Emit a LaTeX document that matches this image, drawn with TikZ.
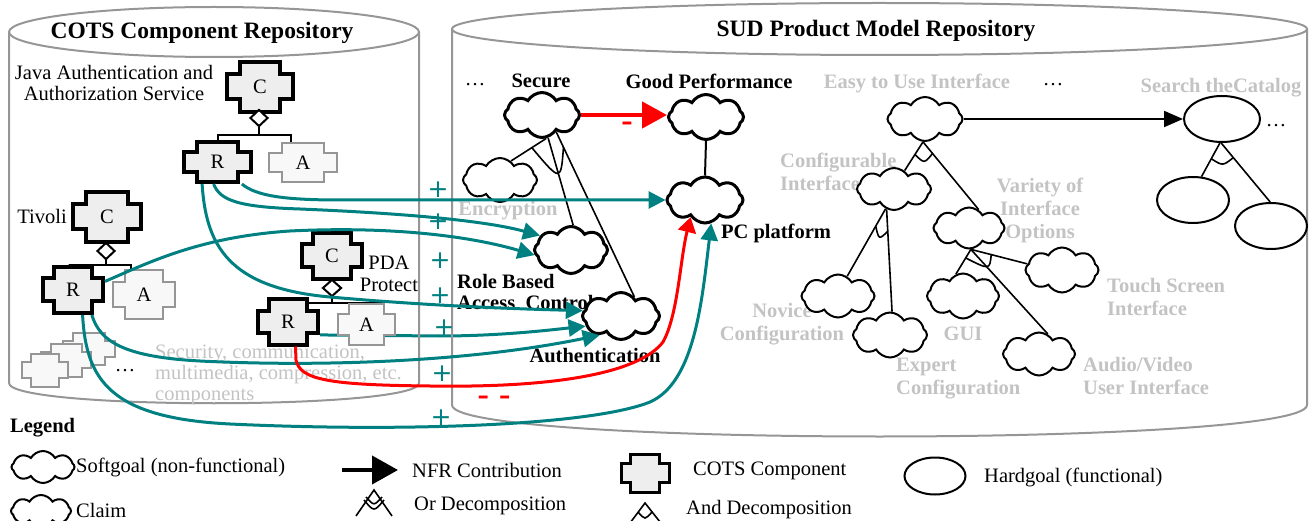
\documentclass[tikz,border=0pt]{standalone}
\usepackage{fontspec}
\setmainfont{Liberation Serif}
\newfontfamily\signfont{DejaVu Sans}
\usetikzlibrary{shapes.symbols,shapes.geometric,arrows.meta,calc}
\pgfdeclarelayer{back}
\pgfsetlayers{back,main}

% COTS component symbol: a rectangle with notched corners
\makeatletter
\pgfdeclareshape{cots}{%
  \inheritsavedanchors[from=rectangle]%
  \inheritanchorborder[from=rectangle]%
  \inheritanchor[from=rectangle]{center}%
  \inheritanchor[from=rectangle]{north}%
  \inheritanchor[from=rectangle]{south}%
  \inheritanchor[from=rectangle]{east}%
  \inheritanchor[from=rectangle]{west}%
  \inheritanchor[from=rectangle]{north east}%
  \inheritanchor[from=rectangle]{north west}%
  \inheritanchor[from=rectangle]{south east}%
  \inheritanchor[from=rectangle]{south west}%
  \inheritanchor[from=rectangle]{mid}%
  \inheritanchor[from=rectangle]{base}%
  \backgroundpath{%
    \southwest \pgf@xa=\pgf@x \pgf@ya=\pgf@y
    \northeast \pgf@xb=\pgf@x \pgf@yb=\pgf@y
    \pgfmathsetlength\pgf@xc{\pgfkeysvalueof{/pgf/outer xsep}}%
    \pgfmathsetlength\pgf@yc{\pgfkeysvalueof{/pgf/outer ysep}}%
    \advance\pgf@xa by\pgf@xc \advance\pgf@ya by\pgf@yc
    \advance\pgf@xb by-\pgf@xc \advance\pgf@yb by-\pgf@yc
    \pgf@xc=\pgf@xb \advance\pgf@xc by-\pgf@xa
    \pgf@yc=\pgf@yb \advance\pgf@yc by-\pgf@ya
    \edef\cots@xa{\the\pgf@xa}\edef\cots@xb{\the\pgf@xb}%
    \edef\cots@ya{\the\pgf@ya}\edef\cots@yb{\the\pgf@yb}%
    \pgf@x=\pgf@xa \advance\pgf@x by 0.19\pgf@xc \edef\cots@xl{\the\pgf@x}%
    \pgf@x=\pgf@xb \advance\pgf@x by -0.19\pgf@xc \edef\cots@xr{\the\pgf@x}%
    \pgf@y=\pgf@ya \advance\pgf@y by 0.25\pgf@yc \edef\cots@yl{\the\pgf@y}%
    \pgf@y=\pgf@yb \advance\pgf@y by -0.25\pgf@yc \edef\cots@yu{\the\pgf@y}%
    \pgfpathmoveto{\pgfqpoint{\cots@xl}{\cots@yb}}%
    \pgfpathlineto{\pgfqpoint{\cots@xr}{\cots@yb}}%
    \pgfpathlineto{\pgfqpoint{\cots@xr}{\cots@yu}}%
    \pgfpathlineto{\pgfqpoint{\cots@xb}{\cots@yu}}%
    \pgfpathlineto{\pgfqpoint{\cots@xb}{\cots@yl}}%
    \pgfpathlineto{\pgfqpoint{\cots@xr}{\cots@yl}}%
    \pgfpathlineto{\pgfqpoint{\cots@xr}{\cots@ya}}%
    \pgfpathlineto{\pgfqpoint{\cots@xl}{\cots@ya}}%
    \pgfpathlineto{\pgfqpoint{\cots@xl}{\cots@yl}}%
    \pgfpathlineto{\pgfqpoint{\cots@xa}{\cots@yl}}%
    \pgfpathlineto{\pgfqpoint{\cots@xa}{\cots@yu}}%
    \pgfpathlineto{\pgfqpoint{\cots@xl}{\cots@yu}}%
    \pgfpathclose
  }%
}
\makeatother

\definecolor{nfrteal}{RGB}{0,128,128}
\definecolor{cylline}{RGB}{150,150,150}
\definecolor{faded}{RGB}{195,195,195}
\definecolor{cotsfill}{RGB}{238,238,238}
\definecolor{cotsfaint}{RGB}{248,248,248}
\definecolor{cotsedge}{RGB}{150,150,150}

\tikzset{
  cyl/.style={draw=cylline, line width=2pt},
  title/.style={font=\fontsize{23.5pt}{24pt}\selectfont\bfseries, inner sep=0pt},
  lbl/.style={font=\fontsize{20.5pt}{21pt}\selectfont, inner sep=0pt},
  blbl/.style={font=\fontsize{20.5pt}{21pt}\selectfont\bfseries, inner sep=0pt},
  glbl/.style={font=\fontsize{20.5pt}{23pt}\selectfont\bfseries, text=faded, inner sep=0pt},
  faint/.style={lbl, text=faded},
  softgoal/.style={cloud, cloud puffs=8, cloud puff arc=120, cloud ignores aspect,
    draw, fill=white, line width=3pt, inner sep=0pt,
    minimum width=75pt, minimum height=45pt},
  lightsoft/.style={softgoal, line width=2pt},
  hardgoal/.style={ellipse, draw, fill=white, line width=2pt, inner sep=0pt},
  cotsbox/.style={shape=cots, draw, line width=4pt, fill=cotsfill, inner sep=0pt,
    font=\fontsize{20.5pt}{21pt}\selectfont},
  cotsfaded/.style={cotsbox, draw=cotsedge, fill=cotsfaint, line width=2pt},
  anddiamond/.style={diamond, draw, fill=white, line width=2pt, inner sep=0pt,
    minimum width=18pt, minimum height=17pt},
  wire/.style={line width=2pt},
  decomp/.style={line width=1.6pt},
  contrib/.style={draw=nfrteal, line width=3pt, -{Triangle[length=17pt,width=17pt]}},
  hurt/.style={draw=red, line width=3pt, -{Triangle[length=15pt,width=18pt]}},
  bighurt/.style={draw=red, line width=4.5pt, -{Triangle[length=25pt,width=26pt]}},
  nfrarrow/.style={line width=2pt, -{Triangle[length=19pt,width=16pt]}},
  legendarrow/.style={line width=4pt, -{Triangle[length=26pt,width=28pt]}},
  plus/.style={text=nfrteal, font=\signfont\fontsize{25pt}{25pt}\selectfont, inner sep=0pt},
  minus/.style={text=red, font=\fontsize{34pt}{34pt}\selectfont\bfseries, inner sep=0pt},
}

\begin{document}
\begin{tikzpicture}[x=1pt, y=-1pt]
\useasboundingbox (0,0) rectangle (1309,521);

% ---------- repositories ----------
\draw[cyl] (9,32) -- (9,383) .. controls (9,410) and (419,410) .. (419,383) -- (419,32);
\draw[cyl] (214,32) ellipse [x radius=205pt, y radius=25pt];
\draw[cyl] (452,29) -- (452,405) .. controls (452,447) and (1307,447) .. (1307,405) -- (1307,29);
\draw[cyl] (879.5,29) ellipse [x radius=427.5pt, y radius=26pt];
\node[title] (cotsTitle) at (202,33) {COTS Component Repository};
\node[title] (sudTitle) at (876,31) {SUD Product Model Repository};

% ---------- text labels (clouds are drawn over them) ----------
\node[lbl, align=center] (jaasL) at (114,83) {Java Authentication and\\Authorization Service};
\node[lbl] (tivoliL) at (42,216) {Tivoli};
\node[lbl, align=center, font=\fontsize{20.5pt}{22pt}\selectfont] (pdaL) at (389,274) {PDA\\Protect};
\node[faint, align=left, anchor=west] (secL) at (155,375)
  {Security, communication,\\multimedia, compression, etc.\\components};
\node[lbl] (dotsL) at (125,371) {…};

\node[lbl] (dotsA) at (475,85) {…};
\node[blbl] (secureL) at (541,81) {Secure};
\node[blbl] (gpL) at (709,81) {Good Performance};
\node[blbl] (pcL) at (776,233) {PC platform};
\node[glbl] (encL) at (508,211) {Encryption};
\node[blbl, align=left, anchor=west] (rbacL) at (457,292) {Role Based\\Access\ \ Control};
\node[blbl] (authL) at (595,356) {Authentication};

\node[glbl] (euiL) at (917,83) {Easy to Use Interface};
\node[lbl] (dotsB) at (1053,85) {…};
\node[glbl] (searchL) at (1221,88) {Search theCatalog};
\node[lbl] (dotsC) at (1276,126) {…};
\node[glbl, align=left, anchor=west] (ciL) at (780,172) {Configurable\\Interface};
\node[glbl, align=center] (vioL) at (1040,210) {Variety of\\Interface\\Options};
\node[glbl, align=center] (noviceL) at (782,324) {Novice\\Configuration};
\node[glbl, align=left, anchor=west] (expertL) at (896,379) {Expert\\Configuration};
\node[glbl] (guiL) at (963,334) {GUI};
\node[glbl, align=left, anchor=west] (touchL) at (1107,297) {Touch Screen\\Interface};
\node[glbl, align=left, anchor=west] (avL) at (1083,376) {Audio/Video\\User Interface};

% ---------- COTS components ----------
\node[cotsbox, minimum width=66pt, minimum height=50pt] (jC) at (260,87) {C};
\node[anddiamond] (jD) at (259,118) {};
\node[cotsbox, minimum width=67pt, minimum height=40pt] (jR) at (217.5,162) {R};
\node[cotsfaded, minimum width=68pt, minimum height=39pt] (jA) at (303,162.5) {A};

\node[cotsbox, minimum width=68pt, minimum height=50pt] (tC) at (107,217) {C};
\node[anddiamond] (tD) at (106,251) {};
\node[cotsbox, minimum width=60pt, minimum height=46pt] (tR) at (73,290) {R};
\node[cotsfaded, minimum width=62pt, minimum height=49pt] (tA) at (144,294.5) {A};

\node[cotsbox, minimum width=60pt, minimum height=46pt] (pC) at (332,256) {C};
\node[anddiamond, minimum width=19pt] (pD) at (332,288) {};
\node[cotsbox, minimum width=60pt, minimum height=45pt] (pR) at (288,322) {R};

\node[cotsfaded, minimum width=52pt, minimum height=32pt] (stackC) at (89,349) {};
\node[cotsfaded, minimum width=50pt, minimum height=33pt] (stackB) at (66,360) {};
\node[cotsfaded, minimum width=46pt, minimum height=33pt] (stackA) at (45,370) {};

% composition bars
\draw[wire] (jD.south) -- ++(0,8) coordinate (jBar);
\draw[wire] (jR.north) |- (jBar) -| ($(jA.north)+(-12,0)$);
\draw[wire] (tD.south) -- ++(0,5) coordinate (tBar);
\draw[wire] ($(tR.north)+(-4,0)$) |- (tBar) -| ($(tA.north)+(-13,0)$);
\draw[wire] (pD.south) -- ++(0,6) coordinate (pBar);
\draw[wire] ($(pBar)+(-27,0)$) -- ($(pBar)+(53,0)$);

% ---------- softgoals and hardgoals ----------
\node[softgoal] (secure) at (542,115) {};
\node[softgoal] (gp) at (706,117) {};
\node[softgoal, minimum width=76pt, minimum height=46pt] (pc) at (705,200) {};
\node[lightsoft, minimum width=74pt, minimum height=44pt] (enc) at (500,180) {};
\node[softgoal, minimum width=73pt, minimum height=47pt] (rbac) at (571,250) {};
\node[softgoal, minimum width=77pt, minimum height=47pt] (auth) at (621,316) {};

\node[lightsoft, minimum width=75pt, minimum height=44pt] (eui) at (925,119) {};
\node[lightsoft, minimum width=74pt, minimum height=42pt] (ci) at (894,189) {};
\node[lightsoft, minimum width=71pt, minimum height=41pt] (vio) at (969,228) {};
\node[lightsoft, minimum width=73pt, minimum height=43pt] (novice) at (838,296) {};
\node[lightsoft, minimum width=74pt, minimum height=45pt] (expert) at (890,335) {};
\node[lightsoft, minimum width=72pt, minimum height=45pt] (gui) at (963,296) {};
\node[lightsoft, minimum width=73pt, minimum height=45pt] (touch) at (1062,270) {};
\node[lightsoft, minimum width=72pt, minimum height=43pt] (av) at (1039,354) {};

\node[hardgoal, minimum width=76pt, minimum height=46pt] (search) at (1222,119) {};
\node[hardgoal, minimum width=72pt, minimum height=46pt] (hg1) at (1193,200) {};
\node[hardgoal, minimum width=72pt, minimum height=46pt] (hg2) at (1271,226) {};

% ---------- decompositions ----------
\draw[decomp] (secure.-80) -- (enc.60);
\draw[decomp] (secure.-75) -- (rbac.85);
\draw[decomp] (secure.-50) -- (auth.55);
\path ($(secure.-80)!17pt!(enc.60)$) coordinate (sa1)
      ($(secure.-50)!17pt!(auth.55)$) coordinate (sa2)
      ($(secure.-75)!46pt!(rbac.85)$) coordinate (sa3);
\draw[decomp] (sa1) .. controls (sa3) .. (sa2);

\draw[wire] (gp.south) -- (pc.north);

\draw[decomp] (eui.-95) -- (ci.60);
\draw[decomp] (eui.-95) -- (vio.62);
\path ($(eui.-95)!15pt!(ci.60)$) coordinate (ea1)
      ($(eui.-95)!15pt!(vio.62)$) coordinate (ea2)
      ($(eui.-95)!27pt!(ci.60)$) coordinate (eb1)
      ($(eui.-95)!27pt!(vio.62)$) coordinate (eb2);
\draw[decomp] (ea1) .. controls ($(eb1)!0.5!(eb2)$) .. (ea2);

\draw[decomp] (ci.-113) -- (novice.65);
\draw[decomp] (ci.-110) -- (expert.85);
\path ($(ci.-113)!20pt!(novice.65)$) coordinate (ca1)
      ($(ci.-110)!22pt!(expert.85)$) coordinate (ca2)
      ($(ci.-113)!33pt!(novice.65)$) coordinate (cb1)
      ($(ci.-110)!33pt!(expert.85)$) coordinate (cb2);
\draw[decomp] (ca1) .. controls ($(cb1)!0.5!(cb2)$) .. (ca2);

\draw[decomp] (vio.-85) -- (gui.108);
\draw[decomp] (vio.-85) -- (touch.170);
\draw[decomp] (vio.-85) -- (av.66);
\path ($(vio.-85)!10pt!(gui.108)$) coordinate (va1)
      ($(vio.-85)!21pt!(touch.170)$) coordinate (va2)
      ($(vio.-85)!28pt!(av.66)$) coordinate (va3);
\draw[decomp] (va1) .. controls (va3) .. (va2);

\draw[decomp] (search.-95) -- (hg1.70);
\draw[decomp] (search.-92) -- (hg2.92);
\path ($(search.-95)!18pt!(hg1.70)$) coordinate (ha1)
      ($(search.-92)!19pt!(hg2.92)$) coordinate (ha2)
      ($(search.-95)!28pt!(hg1.70)$) coordinate (hb1)
      ($(search.-92)!28pt!(hg2.92)$) coordinate (hb2);
\draw[decomp] (ha1) .. controls ($(hb1)!0.5!(hb2)$) .. (ha2);

% ---------- contributions ----------
\draw[bighurt] (secure.east) -- (secure.east -| gp.west);
\draw[nfrarrow] (eui.east) -- (search.west);

\begin{pgfonlayer}{back}
\draw[contrib] (pR.-22) -- (440,336) .. controls (500,336) and (550,330) .. (auth.196);
\end{pgfonlayer}
\node[cotsfaded, minimum width=57pt, minimum height=41pt] (pA) at (366.5,324.5) {A};

\draw[contrib] (jR.-42) .. controls (256,196) and (285,200) .. (340,200) -- (pc.west);
\draw[contrib] (jR.-100) .. controls (220,201) and (240,207) .. (300,209)
  .. controls (420,214) and (490,222) .. (rbac.155);
\draw[contrib] (tR.15) .. controls (150,262) and (200,237) .. (290,231)
  .. controls (390,226) and (470,236) .. (rbac.188);
\draw[contrib] (jR.-125) .. controls (206,245) and (228,288) .. (330,297)
  .. controls (430,306) and (520,309) .. (auth.172);
\draw[contrib] (tR.-53) .. controls (100,342) and (125,357) .. (200,361)
  .. controls (320,367) and (470,362) .. (auth.222);
\draw[contrib] (tR.-69) .. controls (86,380) and (110,418) .. (230,424)
  .. controls (400,432) and (590,426) .. (650,402)
  .. controls (695,382) and (702,300) .. (pc.285);
\draw[hurt] (pR.-73) -- (296,360) .. controls (300,380) and (330,385) .. (430,386)
  .. controls (560,388) and (640,372) .. (663,342)
  .. controls (678,315) and (680,260) .. (pc.230);

\node[plus] (plus1) at (438,190) {+};
\node[plus] (plus2) at (438,222) {+};
\node[plus] (plus3) at (440,261) {+};
\node[plus] (plus4) at (440,296) {+};
\node[plus] (plus5) at (444,328) {+};
\node[plus] (plus6) at (442,374) {+};
\node[plus] (plus7) at (441,418) {+};
\node[minus] (minus1) at (627,127) {-};
\node[minus] (minus2) at (494,401) {-\hspace{10pt}-};

% ---------- legend ----------
\node[blbl, anchor=west] (legendL) at (10,428) {Legend};
\node[lightsoft, minimum width=63pt, minimum height=32pt] (lgSoft) at (43,467) {};
\node[lbl, anchor=west] (lgSoftL) at (76,467) {Softgoal (non-functional)};
\node[lightsoft, minimum width=60pt, minimum height=32pt] (lgClaim) at (41,511) {};
\node[lbl, anchor=west] (lgClaimL) at (76,510) {Claim};
\coordinate (lgArrA) at (342,470);
\coordinate (lgArrB) at (398,470);
\draw[legendarrow] (lgArrA) -- (lgArrB);
\node[lbl, anchor=west] (lgNfrL) at (412,470) {NFR Contribution};
\coordinate (orApex) at (374,490);
\draw[decomp] (356,516) -- (orApex) -- (392,516);
\draw[decomp] (364,500) .. controls (374,512) .. (384,500);
\draw[decomp] (366,497) .. controls (374,506) .. (382,497);
\node[lbl, anchor=west] (lgOrL) at (414,506) {Or Decomposition};
\node[cotsbox, line width=3pt, minimum width=48pt, minimum height=38pt] (lgCots) at (645,473) {};
\node[lbl, anchor=west] (lgCotsL) at (693,471) {COTS Component};
\coordinate (andApex) at (645,503);
\draw[decomp] (627,527) -- (andApex) -- (664,527);
\draw[decomp] (638,512) .. controls (645,520) .. (652,512);
\node[lbl, anchor=west] (lgAndL) at (686,510) {And Decomposition};
\node[hardgoal, minimum width=61pt, minimum height=37pt] (lgHard) at (935,476) {};
\node[lbl, anchor=west] (lgHardL) at (984,477) {Hardgoal (functional)};
\end{tikzpicture}
\end{document}
